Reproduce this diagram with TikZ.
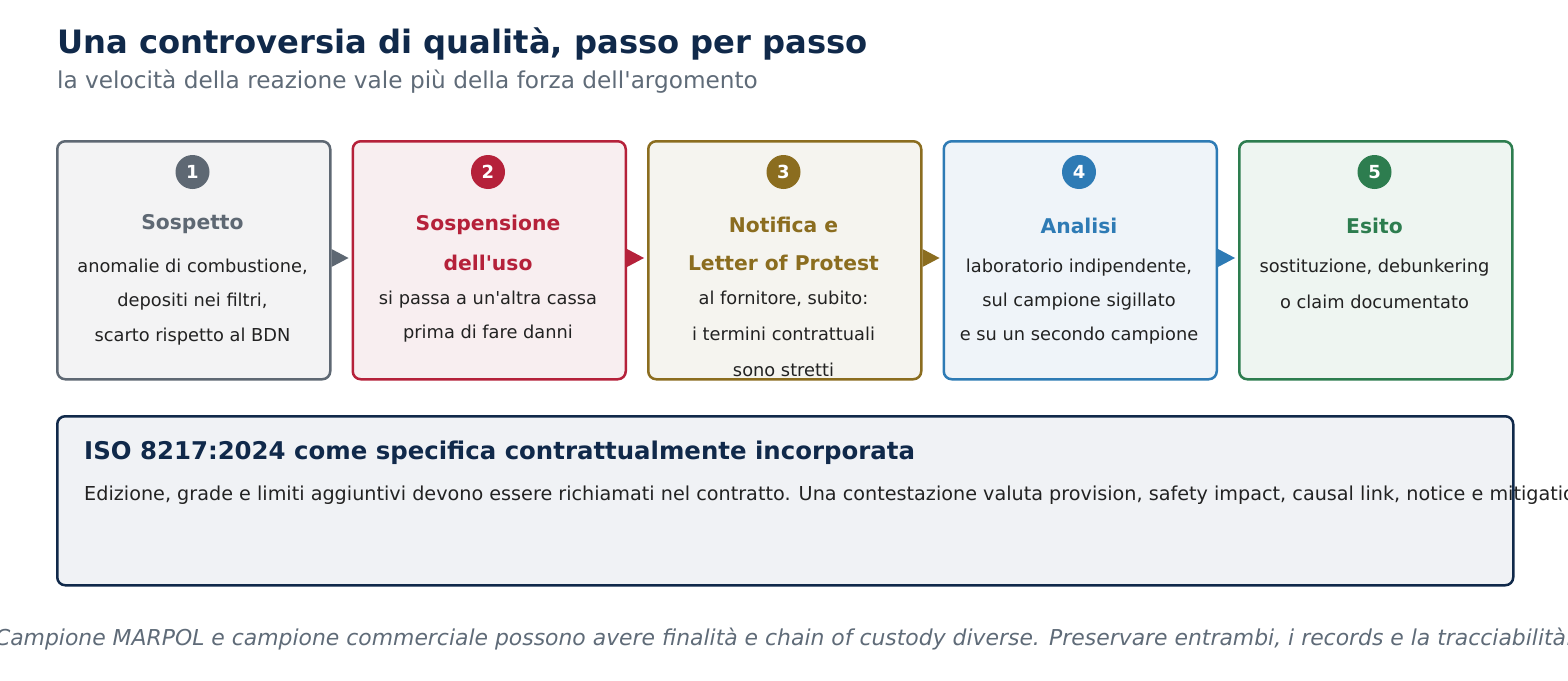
\documentclass[tikz,border=0pt]{standalone}
\usepackage{fontspec}
\setmainfont{DejaVu Sans}[Ligatures=TeXOff]
\definecolor{navy}{HTML}{10294A}
\definecolor{subgray}{HTML}{5F6B78}
\definecolor{bodytext}{HTML}{222222}
\definecolor{cgray}{HTML}{5E6873}
\definecolor{cred}{HTML}{B5213A}
\definecolor{cgold}{HTML}{8B6D1F}
\definecolor{cblue}{HTML}{2E7BB5}
\definecolor{cgreen}{HTML}{2D7D4F}
\definecolor{fgray}{HTML}{F3F3F4}
\definecolor{fred}{HTML}{F8EEF0}
\definecolor{fgold}{HTML}{F5F4EF}
\definecolor{fblue}{HTML}{EFF4F9}
\definecolor{fgreen}{HTML}{EEF5F1}
\definecolor{fnavy}{HTML}{F0F2F5}
\tikzset{
  stepbox/.style={draw, line width=2.5pt, rounded corners=8pt, minimum width=273pt, minimum height=238pt, inner sep=0pt, anchor=north west},
  numdot/.style={circle, minimum size=34pt, inner sep=0pt, text=white, font=\bfseries\fontsize{18}{18}\selectfont},
  boxtitle/.style={anchor=base, inner sep=0pt, font=\bfseries\fontsize{20.3}{20.3}\selectfont},
  boxbody/.style={anchor=base, inner sep=0pt, text=bodytext, font=\fontsize{17.8}{17.8}\selectfont},
}
\begin{document}
\begin{tikzpicture}[x=1pt,y=-1pt]
\useasboundingbox (0,0) rectangle (1568,680);
\clip (0,0) rectangle (1568,680);
\fill[white] (0,0) rectangle (1568,680);

\node[anchor=base west, inner sep=0pt, text=navy, font=\bfseries\fontsize{32.2}{32.2}\selectfont] (title) at (57,53) {Una controversia di qualità, passo per passo};
\node[anchor=base west, inner sep=0pt, text=subgray, font=\fontsize{23.2}{23.2}\selectfont] (subtitle) at (57,88) {la velocità della reazione vale più della forza dell'argomento};

% boxes
\node[stepbox, draw=cgray, fill=fgray] (b1) at (56,140) {};
\node[stepbox, draw=cred, fill=fred] (b2) at (351.5,140) {};
\node[stepbox, draw=cgold, fill=fgold] (b3) at (647,140) {};
\node[stepbox, draw=cblue, fill=fblue] (b4) at (942.5,140) {};
\node[stepbox, draw=cgreen, fill=fgreen] (b5) at (1238,140) {};

% arrow tips
\foreach \b/\c in {b1/cgray,b2/cred,b3/cgold,b4/cblue}{
  \coordinate (t\b) at ([yshift=-118pt]\b.north east);
  \fill[\c] ([yshift=9pt]t\b) -- ++(17,9) -- ++(-17,9) -- cycle;
}

% numbers
\node[numdot, fill=cgray] (n1) at (192.5,172) {1};
\node[numdot, fill=cred] (n2) at (488,172) {2};
\node[numdot, fill=cgold] (n3) at (783.5,172) {3};
\node[numdot, fill=cblue] (n4) at (1079,172) {4};
\node[numdot, fill=cgreen] (n5) at (1374.5,172) {5};

% box 1
\node[boxtitle, text=cgray] (h1) at (192.5,229) {Sospetto};
\node[boxbody] (p11) at (192.5,272) {anomalie di combustione,};
\node[boxbody] (p12) at (192.5,306.5) {depositi nei filtri,};
\node[boxbody] (p13) at (192.5,341) {scarto rispetto al BDN};

% box 2
\node[boxtitle, text=cred] (h21) at (488,230) {Sospensione};
\node[boxtitle, text=cred] (h22) at (488,270) {dell'uso};
\node[boxbody] (p21) at (488,304) {si passa a un'altra cassa};
\node[boxbody] (p22) at (488,338) {prima di fare danni};

% box 3
\node[boxtitle, text=cgold] (h31) at (783.5,232) {Notifica e};
\node[boxtitle, text=cgold] (h32) at (783.5,270) {Letter of Protest};
\node[boxbody] (p31) at (783.5,304) {al fornitore, subito:};
\node[boxbody] (p32) at (783.5,340) {i termini contrattuali};
\node[boxbody] (p33) at (783.5,376) {sono stretti};

% box 4
\node[boxtitle, text=cblue] (h4) at (1079,233) {Analisi};
\node[boxbody] (p41) at (1079,272) {laboratorio indipendente,};
\node[boxbody] (p42) at (1079,306) {sul campione sigillato};
\node[boxbody] (p43) at (1079,340) {e su un secondo campione};

% box 5
\node[boxtitle, text=cgreen] (h5) at (1374.5,233) {Esito};
\node[boxbody] (p51) at (1374.5,272) {sostituzione, debunkering};
\node[boxbody] (p52) at (1374.5,308) {o claim documentato};

% bottom box
\fill[fnavy, rounded corners=8pt] (56,415) rectangle (1512,584);
\node[anchor=base west, inner sep=0pt, text=navy, font=\bfseries\fontsize{24.4}{24.4}\selectfont] (isoh) at (84,459) {ISO 8217:2024 come specifica contrattualmente incorporata};
\node[anchor=base west, inner sep=0pt, text=bodytext, font=\fontsize{19.2}{19.2}\selectfont] (isob) at (84,500) {Edizione, grade e limiti aggiuntivi devono essere richiamati nel contratto. Una contestazione valuta provision, safety impact, causal link, notice e mitigation.};
\node[draw=navy, line width=2.5pt, rounded corners=8pt, anchor=north west, minimum width=1456pt, minimum height=169pt, inner sep=0pt] (iso) at (56,415) {};

% footer
\node[anchor=base, inner sep=0pt, text=subgray, font=\itshape\fontsize{21.9}{21.9}\selectfont] (foot) at (784,645) {Campione MARPOL e campione commerciale possono avere finalità e chain of custody diverse. Preservare entrambi, i records e la tracciabilità.};
\end{tikzpicture}
\end{document}
